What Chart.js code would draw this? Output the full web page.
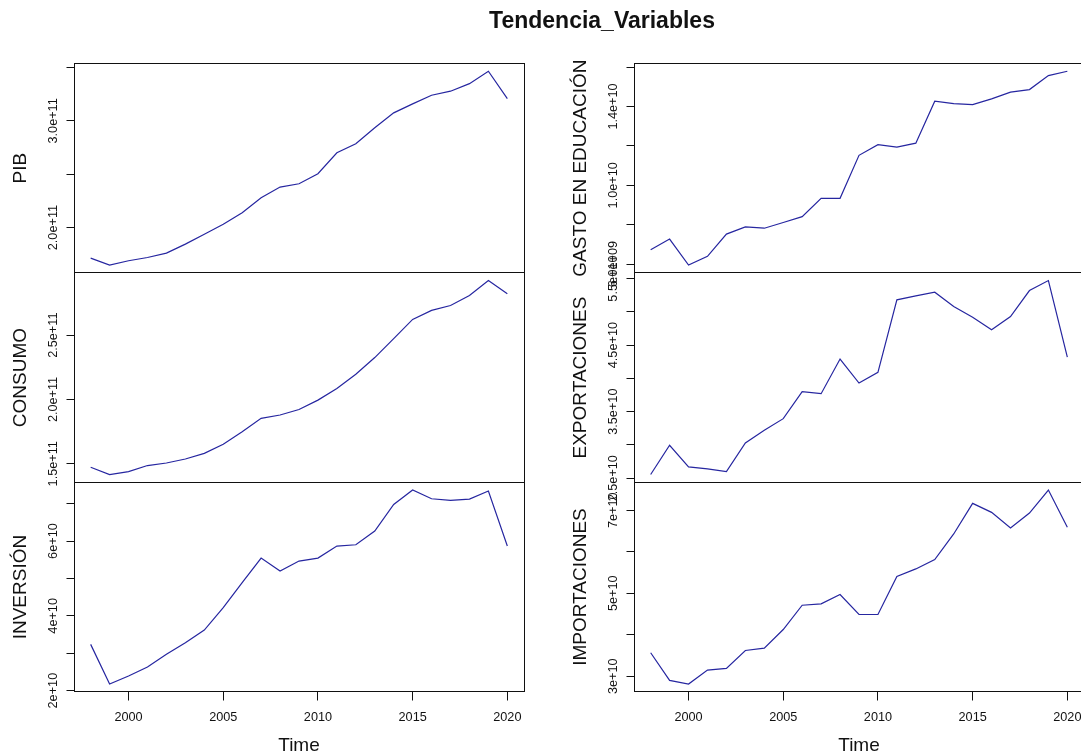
<!DOCTYPE html>
<html>
<head>
<meta charset="utf-8">
<script src="https://cdn.jsdelivr.net/npm/chart.js@4.4.1/dist/chart.umd.min.js"></script>
<style>
html,body{margin:0;padding:0;background:#fff;overflow:hidden;width:1081px;height:755px;position:relative;}
canvas{position:absolute;left:0;top:0;}
</style>
</head>
<body>
<script>
// ---------- DATA ----------
const years = [1998,1999,2000,2001,2002,2003,2004,2005,2006,2007,2008,2009,2010,2011,2012,2013,2014,2015,2016,2017,2018,2019,2020];

const pib = [1.714e11,1.649e11,1.689e11,1.720e11,1.761e11,1.845e11,1.938e11,2.032e11,2.140e11,2.280e11,2.380e11,2.411e11,2.505e11,2.701e11,2.785e11,2.935e11,3.075e11,3.159e11,3.240e11,3.278e11,3.349e11,3.465e11,3.209e11];
const consumo = [1.473e11,1.416e11,1.439e11,1.486e11,1.506e11,1.537e11,1.581e11,1.651e11,1.749e11,1.853e11,1.879e11,1.922e11,1.995e11,2.085e11,2.196e11,2.326e11,2.473e11,2.623e11,2.693e11,2.731e11,2.809e11,2.925e11,2.822e11];
const inversion = [3.237e10,2.176e10,2.390e10,2.631e10,2.970e10,3.282e10,3.620e10,4.217e10,4.886e10,5.545e10,5.198e10,5.465e10,5.545e10,5.866e10,5.902e10,6.267e10,6.980e10,7.364e10,7.132e10,7.087e10,7.123e10,7.337e10,5.866e10];
const gasto = [0.673e10,0.727e10,0.595e10,0.639e10,0.752e10,0.789e10,0.782e10,0.811e10,0.841e10,0.934e10,0.934e10,1.152e10,1.206e10,1.194e10,1.214e10,1.427e10,1.415e10,1.410e10,1.439e10,1.473e10,1.486e10,1.557e10,1.579e10];
const exportaciones = [2.555e10,2.995e10,2.670e10,2.640e10,2.600e10,3.030e10,3.220e10,3.395e10,3.800e10,3.770e10,4.290e10,3.930e10,4.090e10,5.180e10,5.240e10,5.295e10,5.080e10,4.920e10,4.730e10,4.930e10,5.320e10,5.470e10,4.320e10];
const importaciones = [3.565e10,2.900e10,2.812e10,3.148e10,3.188e10,3.621e10,3.677e10,4.126e10,4.711e10,4.743e10,4.968e10,4.487e10,4.487e10,5.401e10,5.585e10,5.810e10,6.427e10,7.164e10,6.948e10,6.571e10,6.932e10,7.485e10,6.587e10];

const xTicks = [2000,2005,2010,2015,2020];
const xTickLabels = ["2000","2005","2010","2015","2020"];

const pibTicks = [2.0e11,2.5e11,3.0e11,3.5e11];
const pibTickLabels = ["2.0e+11","","3.0e+11",""];
const consumoTicks = [1.5e11,2.0e11,2.5e11];
const consumoTickLabels = ["1.5e+11","2.0e+11","2.5e+11"];
const inversionTicks = [2e10,3e10,4e10,5e10,6e10,7e10];
const inversionTickLabels = ["2e+10","","4e+10","","6e+10",""];
const gastoTicks = [0.6e10,0.8e10,1.0e10,1.2e10,1.4e10,1.6e10];
const gastoTickLabels = ["6.0e+09","","1.0e+10","","1.4e+10",""];
const exportTicks = [2.5e10,3.0e10,3.5e10,4.0e10,4.5e10,5.0e10,5.5e10];
const exportTickLabels = ["2.5e+10","","3.5e+10","","4.5e+10","","5.5e+10"];
const importTicks = [3e10,4e10,5e10,6e10,7e10];
const importTickLabels = ["3e+10","","5e+10","","7e+10"];

const mainTitle = "Tendencia_Variables";
const xTitle = "Time";

// ---------- LAYOUT ----------
const CW = 1100, CH = 755;
const colLeft = [74, 634], colRight = [524, 1084];
const rowEdges = [63.5, 272.8, 482.3, 691.8];
const FONT = '"Liberation Sans", Arial, sans-serif';
const LINE_COLOR = '#2626a0';

const panels = [
  {name:'PIB', values:pib, ticks:pibTicks, labels:pibTickLabels, col:0, row:0},
  {name:'CONSUMO', values:consumo, ticks:consumoTicks, labels:consumoTickLabels, col:0, row:1},
  {name:'INVERSIÓN', values:inversion, ticks:inversionTicks, labels:inversionTickLabels, col:0, row:2},
  {name:'GASTO EN EDUCACIÓN', values:gasto, ticks:gastoTicks, labels:gastoTickLabels, col:1, row:0},
  {name:'EXPORTACIONES', values:exportaciones, ticks:exportTicks, labels:exportTickLabels, col:1, row:1},
  {name:'IMPORTACIONES', values:importaciones, ticks:importTicks, labels:importTickLabels, col:1, row:2}
];

function rangeR(arr){
  const mn = Math.min(...arr), mx = Math.max(...arr), d = mx - mn;
  return [mn - 0.04*d, mx + 0.04*d];
}
const xr = rangeR(years);

function pxAlign(v){ return Math.round(v - 0.5) + 0.5; }

function makePlugin(p, idx){
  return {
    id: 'rstyle' + idx,
    afterDraw(chart){
      const ctx = chart.ctx, a = chart.chartArea;
      const xs = chart.scales.x, ys = chart.scales.y;
      ctx.save();
      ctx.strokeStyle = '#111';
      ctx.lineWidth = 1;
      const L = pxAlign(a.left), R = pxAlign(a.right), T = pxAlign(a.top), B = pxAlign(a.bottom);
      ctx.strokeRect(L, T, R - L, B - T);
      // y ticks
      ctx.beginPath();
      p.ticks.forEach(t => {
        const y = pxAlign(ys.getPixelForValue(t));
        ctx.moveTo(L - 8, y); ctx.lineTo(L, y);
      });
      ctx.stroke();
      ctx.fillStyle = '#111';
      const tfs = 12.7;
      ctx.font = tfs + 'px ' + FONT;
      ctx.textAlign = 'center';
      ctx.textBaseline = 'alphabetic';
      p.ticks.forEach((t, i) => {
        if (!p.labels[i]) return;
        const y = ys.getPixelForValue(t);
        ctx.save();
        ctx.translate(a.left - 22, y);
        ctx.rotate(-Math.PI/2);
        ctx.fillText(p.labels[i], 0, 0.358*tfs);
        ctx.restore();
      });
      // y title
      const lfs = 19;
      ctx.font = lfs + 'px ' + FONT;
      ctx.save();
      ctx.translate(a.left - 54.5, (a.top + a.bottom)/2);
      ctx.rotate(-Math.PI/2);
      ctx.fillText(p.name, 0, 0.358*lfs);
      ctx.restore();
      // x axis on bottom row
      if (p.row === 2){
        ctx.beginPath();
        xTicks.forEach(t => {
          const x = pxAlign(xs.getPixelForValue(t));
          ctx.moveTo(x, B); ctx.lineTo(x, B + 9);
        });
        ctx.stroke();
        ctx.font = tfs + 'px ' + FONT;
        xTicks.forEach((t, i) => {
          ctx.fillText(xTickLabels[i], xs.getPixelForValue(t), 716 + 0.358*tfs);
        });
        ctx.font = lfs + 'px ' + FONT;
        ctx.fillText(xTitle, (a.left + a.right)/2, 751);
      }
      if (idx === 0){
        ctx.font = 'bold 23px ' + FONT;
        ctx.fillText(mainTitle, 602, 28.3);
      }
      ctx.restore();
    }
  };
}

panels.forEach((p, idx) => {
  const cv = document.createElement('canvas');
  cv.width = CW; cv.height = CH;
  cv.style.width = CW + 'px'; cv.style.height = CH + 'px';
  document.body.appendChild(cv);
  const yr = rangeR(p.values);
  const L = colLeft[p.col], R = colRight[p.col];
  const T = rowEdges[p.row], B = rowEdges[p.row + 1];
  new Chart(cv.getContext('2d'), {
    type: 'line',
    data: {
      datasets: [{
        data: years.map((y, i) => ({x: y, y: p.values[i]})),
        borderColor: LINE_COLOR,
        borderWidth: 1.2,
        pointRadius: 0,
        tension: 0,
        fill: false
      }]
    },
    options: {
      responsive: false,
      animation: false,
      devicePixelRatio: 1,
      events: [],
      layout: {padding: {left: L, right: CW - R, top: T, bottom: CH - B}},
      plugins: {legend: {display: false}, tooltip: {enabled: false}, title: {display: false}},
      scales: {
        x: {type: 'linear', display: false, min: xr[0], max: xr[1]},
        y: {type: 'linear', display: false, min: yr[0], max: yr[1]}
      }
    },
    plugins: [makePlugin(p, idx)]
  });
});
</script>
</body>
</html>
